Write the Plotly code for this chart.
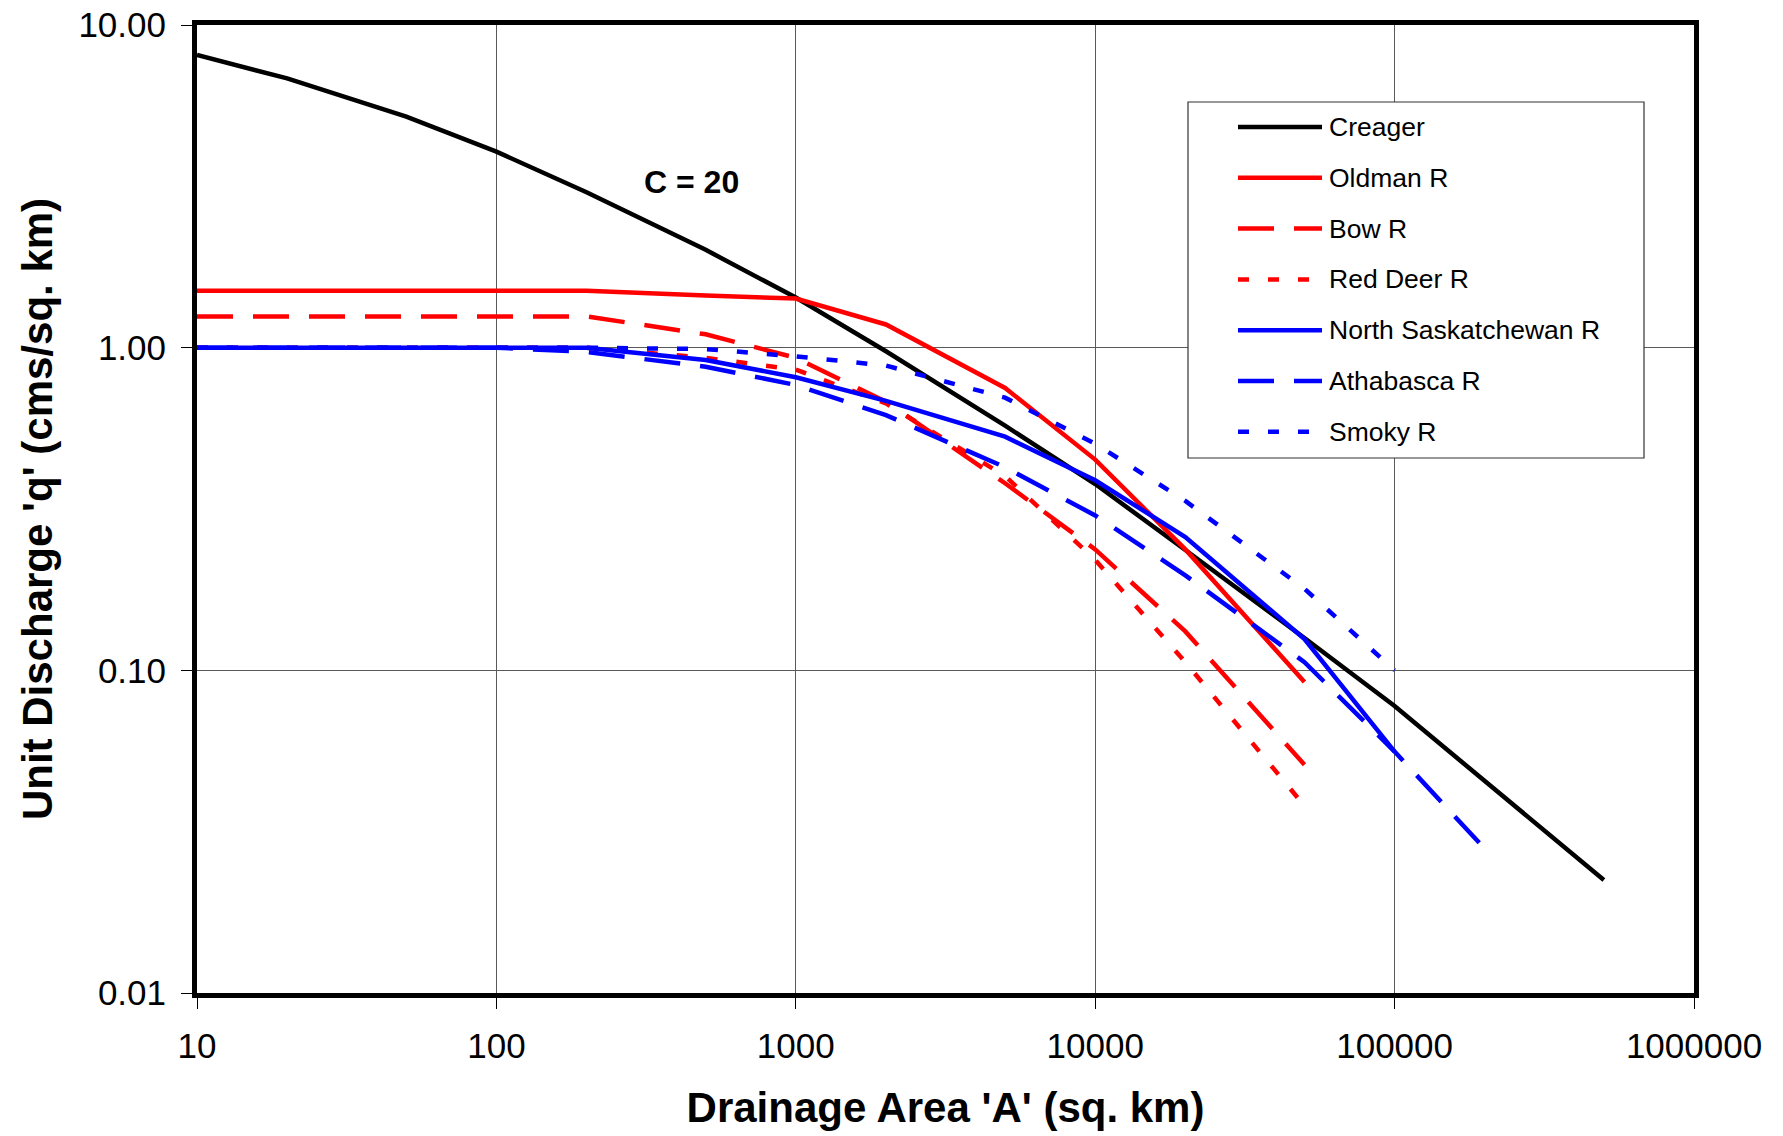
import plotly.graph_objects as go

# Drainage areas (sq. km) at which unit discharge is tabulated
area_km2 = [10, 20, 50, 100, 200, 500, 1000, 2000, 5000, 10000, 20000,
            50000, 100000, 200000, 500000]

# Unit discharge q (cms/sq. km) for each curve
creager_q = [8.07, 6.83, 5.20, 4.05, 3.03, 2.01, 1.43, 0.975, 0.573, 0.378,
             0.236, 0.126, 0.0775, 0.0455, 0.0224]
oldman_q = [1.50, 1.50, 1.50, 1.50, 1.50, 1.45, 1.42, 1.18, 0.75, 0.45,
            0.237, 0.092]
bow_q = [1.25, 1.25, 1.25, 1.25, 1.25, 1.10, 0.93, 0.68, 0.38, 0.237,
         0.132, 0.051]
red_deer_q = [1.00, 1.00, 1.00, 1.00, 1.00, 0.93, 0.855, 0.672, 0.40, 0.22,
              0.106, 0.038]
north_sask_q = [1.00, 1.00, 1.00, 1.00, 1.00, 0.916, 0.81, 0.684, 0.53,
                0.388, 0.259, 0.125, 0.056]
athabasca_q = [1.00, 1.00, 1.00, 1.00, 0.97, 0.873, 0.766, 0.618, 0.426,
               0.302, 0.197, 0.106, 0.056, 0.028]
smoky_q = [1.00, 1.00, 1.00, 1.00, 1.00, 0.99, 0.94, 0.88, 0.70, 0.504,
           0.335, 0.179, 0.10]

# Axis ticks
x_ticks = [10, 100, 1000, 10000, 100000, 1000000]
x_tick_text = ["10", "100", "1000", "10000", "100000", "1000000"]
y_ticks = [0.01, 0.1, 1, 10]
y_tick_text = ["0.01", "0.10", "1.00", "10.00"]

RED = "#ff0000"
BLUE = "#0000ff"
BLACK = "#000000"
LONG_DASH = "36px,20px"
SHORT_DASH = "11px,19px"
LINE_W = 4.5
FONT = "Liberation Sans, Arial, sans-serif"

series = [
    ("Creager", creager_q, BLACK, "solid"),
    ("Oldman R", oldman_q, RED, "solid"),
    ("Bow R", bow_q, RED, LONG_DASH),
    ("Red Deer R", red_deer_q, RED, SHORT_DASH),
    ("North Saskatchewan R", north_sask_q, BLUE, "solid"),
    ("Athabasca R", athabasca_q, BLUE, LONG_DASH),
    ("Smoky R", smoky_q, BLUE, SHORT_DASH),
]

# Page and plot-area geometry in pixels
W, H = 1783, 1136
PL, PR, PT, PB = 197, 1694, 25, 993


def px_x(px):
    return (px - PL) / (PR - PL)


def px_y(py):
    return (PB - py) / (PB - PT)


fig = go.Figure()
for name, q, color, dash in series:
    fig.add_trace(go.Scatter(
        x=area_km2[:len(q)], y=q, mode="lines", name=name,
        line=dict(color=color, width=LINE_W, dash=dash),
        showlegend=False,
    ))

# Boxed legend with long line samples
shapes = [dict(type="rect", xref="paper", yref="paper",
               x0=px_x(1188), x1=px_x(1644), y0=px_y(458), y1=px_y(102),
               line=dict(color="#333333", width=1.2), fillcolor="white",
               layer="above")]
annotations = []
row_y0, row_step = 127, 50.8
for i, (name, q, color, dash) in enumerate(series):
    yy = px_y(row_y0 + i * row_step)
    shapes.append(dict(type="line", xref="paper", yref="paper",
                       x0=px_x(1238), x1=px_x(1322), y0=yy, y1=yy,
                       line=dict(color=color, width=LINE_W, dash=dash),
                       layer="above"))
    annotations.append(dict(xref="paper", yref="paper", x=px_x(1327), y=yy,
                            text=name, showarrow=False, xanchor="left",
                            yanchor="middle",
                            font=dict(family=FONT, size=26.5, color="black")))

annotations.append(dict(xref="paper", yref="paper", x=px_x(691), y=px_y(182),
                        text="C = 20", showarrow=False, xanchor="center",
                        yanchor="middle",
                        font=dict(family=FONT, size=32, color="black",
                                  weight="bold")))

axis_common = dict(
    type="log", showgrid=True, gridcolor="#5a5a5a", gridwidth=1,
    showline=True, linecolor="black", linewidth=5, mirror=True,
    ticks="outside", ticklen=11, tickwidth=1, tickcolor="black",
    zeroline=False, tickfont=dict(family=FONT, size=35, color="black"),
)

fig.update_layout(
    width=W, height=H,
    margin=dict(l=PL, r=W - PR, t=PT, b=H - PB, pad=0),
    paper_bgcolor="white", plot_bgcolor="white",
    xaxis=dict(axis_common, range=[1, 6], tickvals=x_ticks,
               ticktext=x_tick_text, ticklabelstandoff=7, automargin="bottom",
               title=dict(text="Drainage Area 'A' (sq. km)", standoff=30,
                          font=dict(family=FONT, size=42, color="black",
                                    weight="bold"))),
    yaxis=dict(axis_common, range=[-2, 1], tickvals=y_ticks,
               ticktext=y_tick_text, ticklabelstandoff=8, automargin="left",
               title=dict(text="Unit Discharge 'q' (cms/sq. km)", standoff=14,
                          font=dict(family=FONT, size=42, color="black",
                                    weight="bold"))),
    shapes=shapes, annotations=annotations,
    showlegend=False,
)

fig.write_html("out.html")
